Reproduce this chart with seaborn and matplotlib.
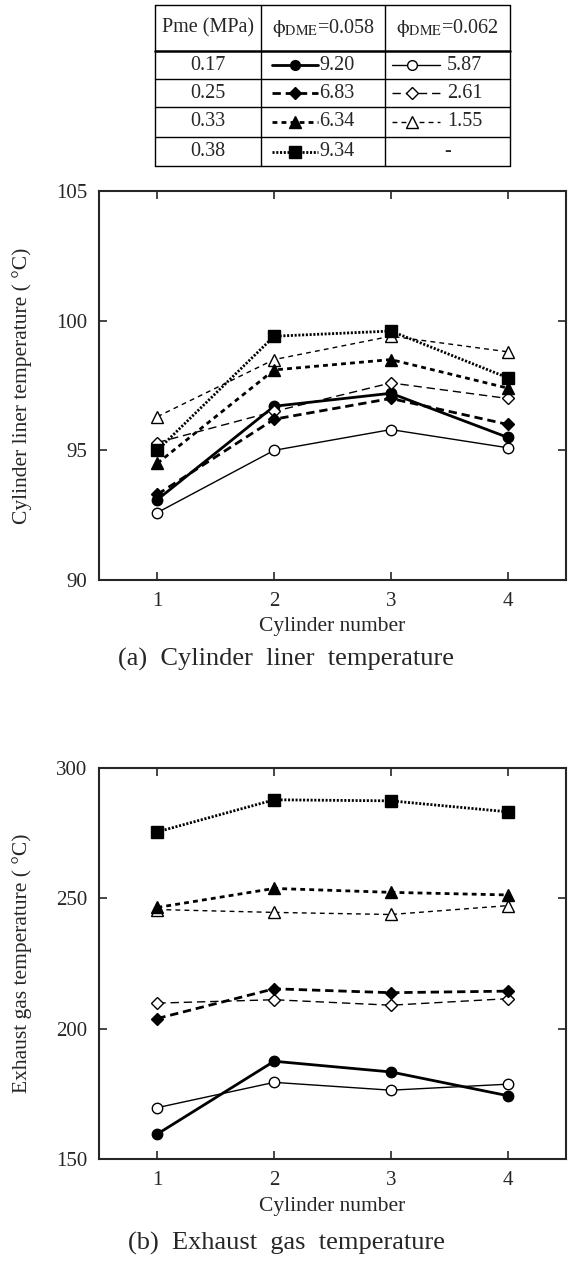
import pandas as pd
import matplotlib
matplotlib.use("Agg")
import matplotlib.pyplot as plt
import seaborn as sns

# Cylinder numbers
cylinders = [1, 2, 3, 4]

# Cylinder liner temperature (deg C), a = phi 0.058 (filled), b = phi 0.062 (open)
liner_017_a = [93.1, 96.7, 97.2, 95.5]
liner_017_b = [92.6, 95.0, 95.8, 95.1]
liner_025_a = [93.3, 96.2, 97.0, 96.0]
liner_025_b = [95.3, 96.5, 97.6, 97.0]
liner_033_a = [94.5, 98.1, 98.5, 97.4]
liner_033_b = [96.3, 98.5, 99.4, 98.8]
liner_038_a = [95.0, 99.4, 99.6, 97.8]

# Exhaust gas temperature (deg C)
exh_017_a = [159.6, 187.5, 183.4, 174.3]
exh_017_b = [169.7, 179.4, 176.4, 178.7]
exh_025_a = [203.9, 215.3, 213.8, 214.4]
exh_025_b = [209.8, 211.1, 209.0, 211.5]
exh_033_a = [246.5, 253.8, 252.3, 251.3]
exh_033_b = [245.7, 244.6, 243.8, 247.2]
exh_038_a = [275.5, 287.8, 287.4, 283.2]

# Table contents
pme_labels = ["0.17", "0.25", "0.33", "0.38"]
phi058_vals = ["9.20", "6.83", "6.34", "9.34"]
phi062_vals = ["5.87", "2.61", "1.55", "-"]

sns.set_style("ticks")
plt.rcParams['font.family'] = ['Liberation Serif', 'DejaVu Serif']
plt.rcParams['mathtext.fontset'] = 'stix'
plt.rcParams['lines.scale_dashes'] = False

# line style per load (Pme): (linestyle, marker, markersize)
styles = {
    "0.17": ("-", "o", 7.5),
    "0.25": ((0, (6, 3.5)), "D", 6.5),
    "0.33": ((0, (3.5, 3)), "^", 8.5),
    "0.38": ((0, (1.5, 1.2)), "s", 8.5),
}

fig = plt.figure(figsize=(5.68, 12.76), dpi=100)
W, H = 568, 1276


def px_axes(x0, y0, x1, y1):
    return fig.add_axes([x0 / W, 1 - y1 / H, (x1 - x0) / W, (y1 - y0) / H])


def draw_series(ax, vals, pme, filled):
    ls, mk, ms = styles[pme]
    df = pd.DataFrame({"cyl": cylinders, "temp": vals})
    sns.lineplot(data=df, x="cyl", y="temp", ax=ax, color="black",
                 linestyle=ls, linewidth=2.0 if filled else 1.0,
                 marker=mk, markersize=ms,
                 markerfacecolor="black" if filled else "white",
                 markeredgecolor="black", markeredgewidth=1.0,
                 errorbar=None, legend=False)


def style_axes(ax, ylim, yticks, ylabel, height_px):
    ax.set_xlim(0.5, 4.5)
    ax.set_ylim(*ylim)
    ax.set_xticks(cylinders)
    ax.set_yticks(yticks)
    ax.tick_params(direction="in", length=6, width=1.2, labelsize=15,
                   top=True, right=True, pad=8.5)
    for sp in ax.spines.values():
        sp.set_linewidth(1.5)
    ax.set_xlabel("Cylinder number", fontsize=15.5)
    ax.set_ylabel(ylabel, fontsize=15.5)
    ax.xaxis.set_label_coords(0.5, -47 / height_px)
    ax.xaxis.label.set_va("center")
    ax.yaxis.set_label_coords(-77 / 467, 0.5)
    ax.yaxis.label.set_va("center")


# (a) Cylinder liner temperature
ax1 = px_axes(99, 191, 566, 580)
draw_series(ax1, liner_017_b, "0.17", False)
draw_series(ax1, liner_017_a, "0.17", True)
draw_series(ax1, liner_025_b, "0.25", False)
draw_series(ax1, liner_025_a, "0.25", True)
draw_series(ax1, liner_033_b, "0.33", False)
draw_series(ax1, liner_033_a, "0.33", True)
draw_series(ax1, liner_038_a, "0.38", True)
style_axes(ax1, (90, 105), [90, 95, 100, 105], "Cylinder liner temperature ( °C)", 389)
fig.text(286 / W, 1 - 659 / H, "(a)  Cylinder  liner  temperature",
         ha="center", va="center", fontsize=19)

# (b) Exhaust gas temperature
ax2 = px_axes(99, 768, 566, 1159)
draw_series(ax2, exh_017_b, "0.17", False)
draw_series(ax2, exh_017_a, "0.17", True)
draw_series(ax2, exh_025_b, "0.25", False)
draw_series(ax2, exh_025_a, "0.25", True)
draw_series(ax2, exh_033_b, "0.33", False)
draw_series(ax2, exh_033_a, "0.33", True)
draw_series(ax2, exh_038_a, "0.38", True)
style_axes(ax2, (150, 300), [150, 200, 250, 300], "Exhaust gas temperature ( °C)", 391)
fig.text(286 / W, 1 - 1243 / H, "(b)  Exhaust  gas  temperature",
         ha="center", va="center", fontsize=19)

# Legend table at the top
tab = px_axes(155, 5, 510, 166)
tab.set_xlim(155, 510)
tab.set_ylim(166, 5)
tab.axis("off")
col_edges = [155, 261, 385, 510]
row_edges = [5, 51, 79, 107, 137, 166]
for i, y in enumerate(row_edges):
    tab.plot([col_edges[0], col_edges[-1]], [y, y], color="black",
             lw=1.8 if i == 1 else 1.0, clip_on=False)
for x in col_edges:
    tab.plot([x, x], [row_edges[0], row_edges[-1]], color="black", lw=1.0, clip_on=False)

hy = (row_edges[0] + row_edges[1]) / 2
tab.text((col_edges[0] + col_edges[1]) / 2, hy, "Pme (MPa)", ha="center", va="center", fontsize=14.5)
tab.text((col_edges[1] + col_edges[2]) / 2, hy, r"$\mathrm{\phi}_{\mathrm{DME}}$=0.058", ha="center", va="center", fontsize=14.5)
tab.text((col_edges[2] + col_edges[3]) / 2, hy, r"$\mathrm{\phi}_{\mathrm{DME}}$=0.062", ha="center", va="center", fontsize=14.5)

for r, pme in enumerate(pme_labels):
    y = (row_edges[r + 1] + row_edges[r + 2]) / 2
    ls, mk, ms = styles[pme]
    tab.text((col_edges[0] + col_edges[1]) / 2, y, pme, ha="center", va="center", fontsize=14.5)
    # filled sample
    x0 = col_edges[1] + 11
    tab.plot([x0, x0 + 46], [y, y], color="black", linestyle=ls, lw=2.0)
    tab.plot([x0 + 23], [y], color="black", marker=mk, markersize=ms - 0.5, linestyle="none")
    tab.text(x0 + 47, y, phi058_vals[r], ha="left", va="center", fontsize=14.5)
    # open sample
    if phi062_vals[r] != "-":
        x0 = col_edges[2] + 7
        tab.plot([x0, x0 + 48], [y, y], color="black", linestyle=ls, lw=1.0)
        tab.plot([x0 + 20], [y], color="black", marker=mk, markersize=ms - 0.5,
                 markerfacecolor="white", linestyle="none")
        tab.text(x0 + 55, y, phi062_vals[r], ha="left", va="center", fontsize=14.5)
    else:
        tab.text((col_edges[2] + col_edges[3]) / 2, y, "-", ha="center", va="center", fontsize=14.5)

fig.savefig("out.png", dpi=100)
